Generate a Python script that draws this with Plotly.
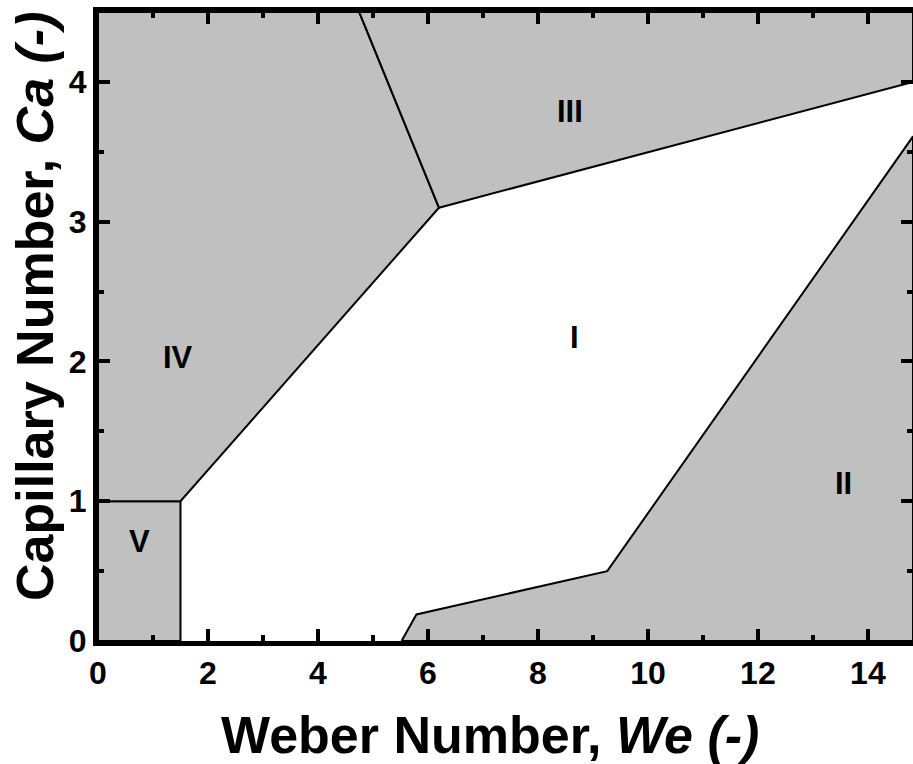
import plotly.graph_objects as go

# Regime boundaries (We, Ca)
reg_V_x = [0, 1.5, 1.5, 0, 0]
reg_V_y = [0, 0, 1.0, 1.0, 0]
reg_IV_x = [0, 1.5, 6.2, 4.75, 0, 0]
reg_IV_y = [1.0, 1.0, 3.1, 4.5, 4.5, 1.0]
reg_III_x = [4.75, 6.2, 14.82, 14.82, 4.75]
reg_III_y = [4.5, 3.1, 4.0, 4.5, 4.5]
reg_II_x = [5.52, 5.79, 9.26, 14.82, 14.82, 5.52]
reg_II_y = [0, 0.19, 0.5, 3.61, 0, 0]

labels = ["I", "II", "III", "IV", "V"]
label_x = [8.66, 13.56, 8.58, 1.45, 0.76]
label_y = [2.17, 1.13, 3.79, 2.03, 0.71]

x_range = [0, 14.82]
y_range = [0, 4.5]
xticks = [0, 2, 4, 6, 8, 10, 12, 14]
yticks = [0, 1, 2, 3, 4]

FILL = "#c0c0c0"
FONT = "Liberation Sans"

fig = go.Figure()
for xs, ys in [(reg_V_x, reg_V_y), (reg_IV_x, reg_IV_y), (reg_III_x, reg_III_y), (reg_II_x, reg_II_y)]:
    fig.add_trace(go.Scatter(x=xs, y=ys, mode="lines", fill="toself", fillcolor=FILL,
                             line=dict(color="black", width=2), hoverinfo="skip", showlegend=False))

annotations = [
    dict(text=f"<b>{t}</b>", x=lx, y=ly, xref="x", yref="y", showarrow=False,
         xanchor="center", yanchor="middle", font=dict(size=31, family=FONT, color="black"))
    for t, lx, ly in zip(labels, label_x, label_y)
]
annotations += [
    dict(text="<b>Weber Number, <i>We (-)</i></b>", xref="paper", yref="paper",
         x=0.481, y=-0.1494, xanchor="center", yanchor="middle", showarrow=False,
         font=dict(size=52, family=FONT, color="black")),
    dict(text="<b>Capillary Number, <i>Ca (-)</i></b>", xref="paper", yref="paper",
         x=-0.0773, y=0.531, xanchor="center", yanchor="middle", showarrow=False, textangle=-90,
         font=dict(size=52, family=FONT, color="black")),
]

fig.update_layout(
    width=913, height=764,
    margin=dict(l=98, r=0, t=12, b=123, pad=0),
    paper_bgcolor="white", plot_bgcolor="white",
    showlegend=False,
    xaxis=dict(range=x_range, tickmode="array", tickvals=xticks, ticktext=[f"<b>{v}</b>" for v in xticks],
               ticks="inside", ticklen=12, tickwidth=4, tickcolor="black",
               minor=dict(tickmode="linear", tick0=0, dtick=1, ticks="inside", ticklen=6, tickwidth=4,
                          tickcolor="black", showgrid=False),
               showline=True, linewidth=5, linecolor="black", mirror="ticks",
               showgrid=False, zeroline=False, automargin=False,
               tickfont=dict(size=32, family=FONT, color="black")),
    yaxis=dict(range=y_range, tickmode="array", tickvals=yticks, ticktext=[f"<b>{v}</b>" for v in yticks],
               ticks="inside", ticklen=12, tickwidth=4, tickcolor="black",
               minor=dict(tickmode="linear", tick0=0, dtick=0.5, ticks="inside", ticklen=6, tickwidth=4,
                          tickcolor="black", showgrid=False),
               showline=True, linewidth=5, linecolor="black", mirror="ticks",
               showgrid=False, zeroline=False, automargin=False,
               tickfont=dict(size=32, family=FONT, color="black")),
    annotations=annotations,
)

fig.write_html("out.html")
